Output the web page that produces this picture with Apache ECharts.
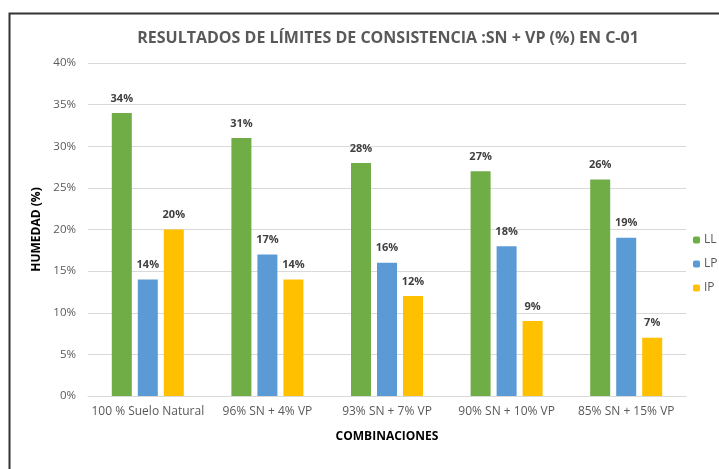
<!DOCTYPE html>
<html><head><meta charset="utf-8">
<script src="https://cdn.jsdelivr.net/npm/echarts@6/dist/echarts.min.js"></script>
<style>html,body{margin:0;padding:0;background:#fff}#c{width:719px;height:469px}</style>
</head><body><div id="c"></div>
<script>
const categories = ['100 % Suelo Natural', '96% SN + 4% VP', '93% SN + 7% VP', '90% SN + 10% VP', '85% SN + 15% VP'];
const LL = [34, 31, 28, 27, 26];
const LP = [14, 17, 16, 18, 19];
const IP = [20, 14, 12, 9, 7];
const yTicks = [0, 5, 10, 15, 20, 25, 30, 35, 40];

const font = 'Open Sans';
const chart = echarts.init(document.getElementById('c'));
const lbl = {show: true, position: 'top', formatter: p => p.value + '%', color: '#404040', fontWeight: 'bold', fontSize: 11, fontFamily: font, distance: 9};
function s(name, data, color) {
  return {name, type: 'bar', data, barWidth: 20, barGap: '30%', itemStyle: {color}, label: lbl};
}
chart.setOption({
  animation: false,
  textStyle: {fontFamily: font},
  graphic: [{type: 'rect', shape: {x: 9.5, y: 13.5, width: 800, height: 600}, style: {fill: null, stroke: '#333', lineWidth: 2}, silent: true}],
  title: {text: 'RESULTADOS DE LÍMITES DE CONSISTENCIA :SN + VP (%) EN C-01', left: 383, top: 25, textAlign: 'center',
    textStyle: {fontSize: 16, fontWeight: 'bold', color: '#595959', fontFamily: font}},
  legend: {orient: 'vertical', left: 688, top: 228, itemWidth: 7, itemHeight: 7, itemGap: 10,
    data: ['LL', 'LP', 'IP'], textStyle: {color: '#595959', fontSize: 12, fontFamily: font, padding: [0,0,0,-1], lineHeight: 14, height: 14}},
  grid: {left: 88, right: 33, top: 63, bottom: 73},
  xAxis: {type: 'category', data: categories, name: 'COMBINACIONES', nameLocation: 'middle', nameGap: 35,
    nameTextStyle: {fontWeight: 'bold', fontSize: 12, color: '#000', fontFamily: font},
    axisLine: {lineStyle: {color: '#d9d9d9'}}, axisTick: {show: false},
    axisLabel: {color: '#595959', fontSize: 12, margin: 10, interval: 0, fontFamily: font}},
  yAxis: {type: 'value', min: yTicks[0], max: yTicks[yTicks.length-1], interval: 5, name: 'HUMEDAD (%)', nameLocation: 'middle', nameGap: 44,
    nameTextStyle: {fontWeight: 'bold', fontSize: 12, color: '#000', fontFamily: font},
    axisLine: {show: false}, axisTick: {show: false},
    axisLabel: {formatter: v => v + '%', color: '#595959', fontSize: 11.5, margin: 12, fontFamily: font},
    splitLine: {lineStyle: {color: '#d9d9d9'}}},
  series: [s('LL', LL, '#70AD47'), s('LP', LP, '#5B9BD5'), s('IP', IP, '#FFC000')]
});
</script></body></html>
